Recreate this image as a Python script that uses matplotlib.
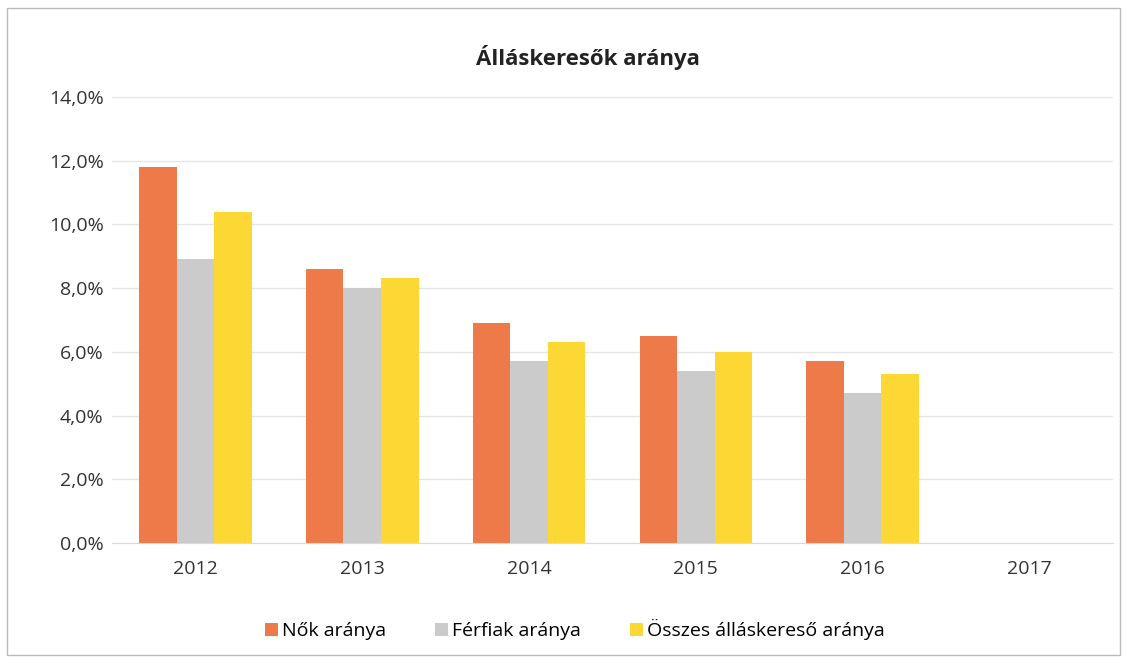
import numpy as np
import matplotlib.pyplot as plt
from matplotlib.ticker import FuncFormatter

plt.rcParams["font.family"] = ["Open Sans", "DejaVu Sans"]

years = ["2012", "2013", "2014", "2015", "2016", "2017"]
nok = [11.8, 8.6, 6.9, 6.5, 5.7, np.nan]
ferfiak = [8.9, 8.0, 5.7, 5.4, 4.7, np.nan]
osszes = [10.4, 8.3, 6.3, 6.0, 5.3, np.nan]

series = [
    ("Nők aránya", nok, "#EE7A4A"),
    ("Férfiak aránya", ferfiak, "#CBCBCB"),
    ("Összes álláskereső aránya", osszes, "#FDD835"),
]

fig = plt.figure(figsize=(11.27, 6.63), dpi=100)
ax = fig.add_axes([0.0994, 0.181, 0.888, 0.673])

x = np.arange(len(years))
w = 0.225
for i, (name, vals, col) in enumerate(series):
    ax.bar(x + (i - 1) * w, vals, w, color=col, label=name, zorder=2)

ax.set_xlim(-0.5, len(years) - 0.5)
ax.set_ylim(0, 14)
ax.set_yticks(np.arange(0, 14.1, 2))
ax.yaxis.set_major_formatter(FuncFormatter(lambda v, p: f"{v:.1f}%".replace(".", ",")))
ax.set_xticks(x)
ax.set_xticklabels(years)
ax.tick_params(axis="both", length=0, labelsize=14, colors="#333333")
ax.tick_params(axis="x", pad=12)
ax.tick_params(axis="y", pad=6)
ax.grid(axis="y", color="#E6E6E6", linewidth=1, zorder=0)
for s in ["top", "right", "left"]:
    ax.spines[s].set_visible(False)
ax.spines["bottom"].set_color("#D9D9D9")

fig.text(0.522, 0.913, "Álláskeresők aránya", ha="center", va="center",
         fontsize=16, fontweight="bold", color="#222222")

fig.legend(loc="center", bbox_to_anchor=(0.51, 0.05), ncol=3, frameon=False,
           fontsize=14, handlelength=0.7, handleheight=0.7, handletextpad=0.2,
           columnspacing=2.5)

# outer border like the chart frame
fig.patches.append(plt.Rectangle((0.006, 0.012), 0.988, 0.976, transform=fig.transFigure,
                                 fill=False, edgecolor="#BBBBBB", linewidth=1))

fig.savefig("out.png", dpi=100)
